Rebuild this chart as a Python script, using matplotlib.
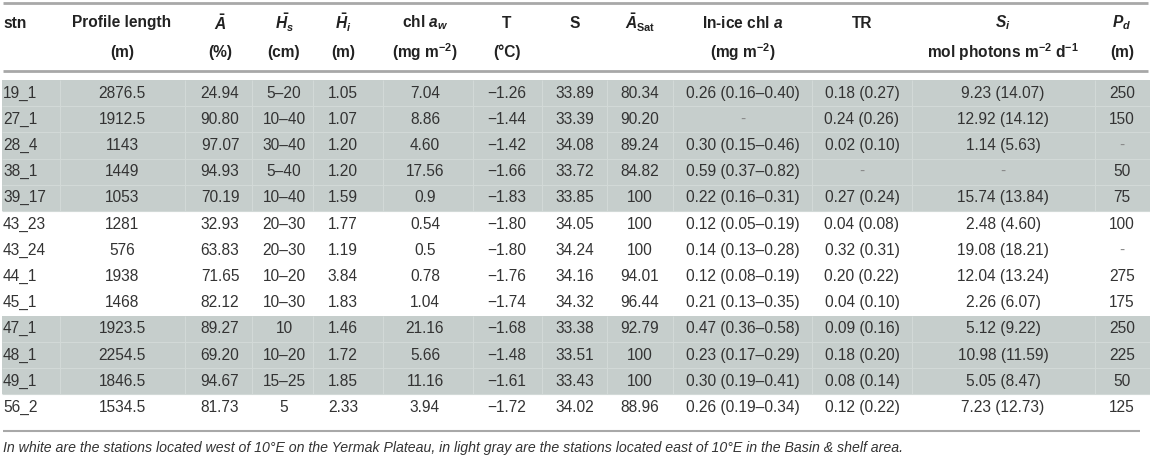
import numpy as np
import matplotlib
matplotlib.use("Agg")
import matplotlib.pyplot as plt

plt.rcParams["font.family"] = ["Liberation Sans", "DejaVu Sans"]
plt.rcParams["mathtext.fontset"] = "custom"
plt.rcParams["mathtext.rm"] = "Liberation Sans:bold"
plt.rcParams["mathtext.it"] = "Liberation Sans:italic:bold"
plt.rcParams["mathtext.bf"] = "Liberation Sans:bold"

# table data
stations = ["19_1", "27_1", "28_4", "38_1", "39_17", "43_23", "43_24",
            "44_1", "45_1", "47_1", "48_1", "49_1", "56_2"]
profile_length = ["2876.5", "1912.5", "1143", "1449", "1053", "1281", "576",
                  "1938", "1468", "1923.5", "2254.5", "1846.5", "1534.5"]
ice_conc = ["24.94", "90.80", "97.07", "94.93", "70.19", "32.93", "63.83",
            "71.65", "82.12", "89.27", "69.20", "94.67", "81.73"]
snow_depth = ["5–20", "10–40", "30–40", "5–40", "10–40", "20–30", "20–30",
              "10–20", "10–30", "10", "10–20", "15–25", "5"]
ice_thick = ["1.05", "1.07", "1.20", "1.20", "1.59", "1.77", "1.19",
             "3.84", "1.83", "1.46", "1.72", "1.85", "2.33"]
chl_water = ["7.04", "8.86", "4.60", "17.56", "0.9", "0.54", "0.5",
             "0.78", "1.04", "21.16", "5.66", "11.16", "3.94"]
temperature = ["−1.26", "−1.44", "−1.42", "−1.66", "−1.83", "−1.80", "−1.80",
               "−1.76", "−1.74", "−1.68", "−1.48", "−1.61", "−1.72"]
salinity = ["33.89", "33.39", "34.08", "33.72", "33.85", "34.05", "34.24",
            "34.16", "34.32", "33.38", "33.51", "33.43", "34.02"]
ice_conc_sat = ["80.34", "90.20", "89.24", "84.82", "100", "100", "100",
                "94.01", "96.44", "92.79", "100", "100", "88.96"]
chl_ice = ["0.26 (0.16–0.40)", "-", "0.30 (0.15–0.46)", "0.59 (0.37–0.82)",
           "0.22 (0.16–0.31)", "0.12 (0.05–0.19)", "0.14 (0.13–0.28)",
           "0.12 (0.08–0.19)", "0.21 (0.13–0.35)", "0.47 (0.36–0.58)",
           "0.23 (0.17–0.29)", "0.30 (0.19–0.41)", "0.26 (0.19–0.34)"]
transmittance = ["0.18 (0.27)", "0.24 (0.26)", "0.02 (0.10)", "-", "0.27 (0.24)",
                 "0.04 (0.08)", "0.32 (0.31)", "0.20 (0.22)", "0.04 (0.10)",
                 "0.09 (0.16)", "0.18 (0.20)", "0.08 (0.14)", "0.12 (0.22)"]
light_ice = ["9.23 (14.07)", "12.92 (14.12)", "1.14 (5.63)", "-", "15.74 (13.84)",
             "2.48 (4.60)", "19.08 (18.21)", "12.04 (13.24)", "2.26 (6.07)",
             "5.12 (9.22)", "10.98 (11.59)", "5.05 (8.47)", "7.23 (12.73)"]
pd_depth = ["250", "150", "-", "50", "75", "100", "-", "275", "175",
            "250", "225", "50", "125"]
east_of_10E = [1, 1, 1, 1, 1, 0, 0, 0, 0, 1, 1, 1, 0]

headers_top = ["stn", "Profile length", r"$\bar{A}$", r"$\bar{H_s}$", r"$\bar{H_i}$",
               r"chl $a_w$", "T", "S", r"$\bar{A}_{\mathrm{Sat}}$",
               r"In-ice chl $a$", "TR", r"$S_i$", r"$P_d$"]
headers_bottom = ["", "(m)", "(%)", "(cm)", "(m)", r"(mg m$^{-2}$)", "(°C)", "", "",
                  r"(mg m$^{-2}$)", "", r"mol photons m$^{-2}$ d$^{-1}$", "(m)"]

footnote = ("In white are the stations located west of 10°E on the Yermak Plateau, "
            "in light gray are the stations located east of 10°E in the Basin & shelf area.")

columns = [stations, profile_length, ice_conc, snow_depth, ice_thick, chl_water,
           temperature, salinity, ice_conc_sat, chl_ice, transmittance, light_ice, pd_depth]

# layout (pixels)
col_x = [3, 122, 220, 284, 343, 425, 507, 575, 640, 743, 862, 1003, 1122]
col_sep = [60, 185, 252, 313, 383, 473, 542, 607, 673, 812, 912, 1095]
row_top = 80
row_h = 26.2
txt_col = "#333333"
gray = "#c6cecc"

fig = plt.figure(figsize=(11.5, 4.58), dpi=100)
ax = fig.add_axes([0, 0, 1, 1])
ax.set_xlim(0, 1150)
ax.set_ylim(458, 0)
ax.axis("off")

n = len(stations)
centers = row_top + (np.arange(n) + 0.5) * row_h
east = np.array(east_of_10E, dtype=bool)

# shaded rows
ax.barh(centers[east], 1148, left=2, height=row_h, color=gray, linewidth=0)
for c in centers[east]:
    ax.vlines(col_sep, c - row_h / 2, c + row_h / 2, color="#d2d9d7", lw=0.8)
    ax.hlines(c + row_h / 2, 2, 1150, color="#d2d9d7", lw=0.8)

# rules
ax.hlines([3, 71], 3, 1148, color="#a8a8a8", lw=2)
ax.hlines(431, 3, 1140, color="#a8a8a8", lw=1.5)

# header
for j, (h1, h2) in enumerate(zip(headers_top, headers_bottom)):
    ha = "left" if j == 0 else "center"
    ax.text(col_x[j], 23, h1, ha=ha, va="center", fontsize=11.2,
            fontweight="bold", color="#222222")
    if h2:
        ax.text(col_x[j], 52, h2, ha=ha, va="center", fontsize=11.2,
                fontweight="bold", color="#222222")

# body
for j, col in enumerate(columns):
    ha = "left" if j == 0 else "center"
    for i, val in enumerate(col):
        ax.text(col_x[j], centers[i], val, ha=ha, va="center",
                fontsize=11.2, color="#888888" if val == "-" else txt_col)

ax.text(3, 448, footnote, ha="left", va="center", fontsize=10.2,
        style="italic", color=txt_col)

fig.savefig("out.png", dpi=100)
